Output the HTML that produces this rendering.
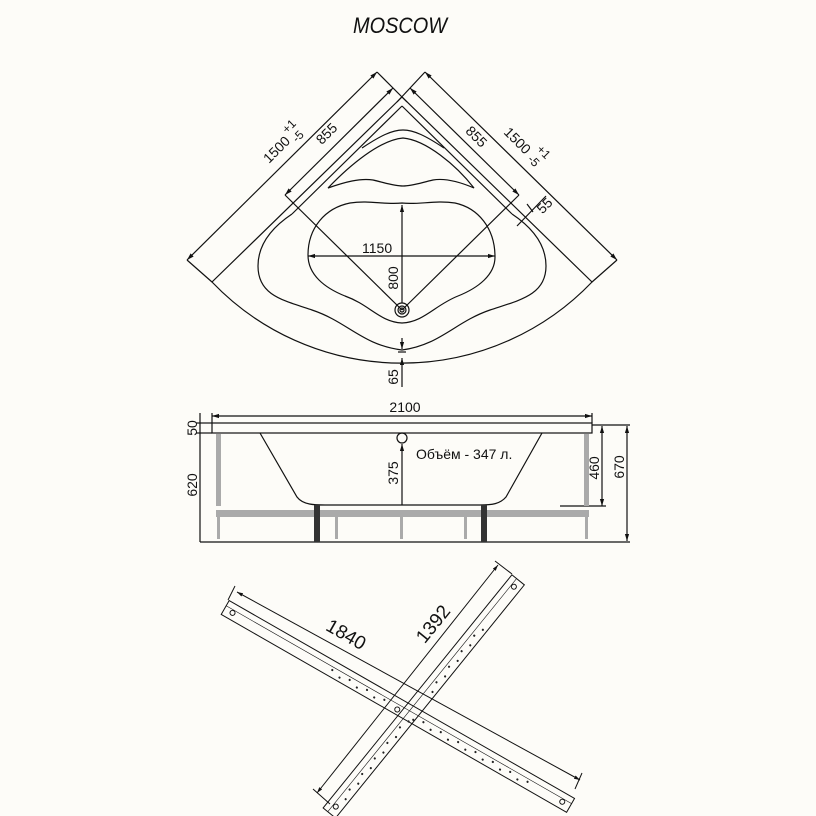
<!DOCTYPE html>
<html><head><meta charset="utf-8"><style>
html,body{margin:0;padding:0;background:#fdfcf8;}
svg{display:block}
text{font-family:"Liberation Sans",sans-serif;fill:#111}
</style></head><body>
<svg width="816" height="816" viewBox="0 0 816 816" xmlns="http://www.w3.org/2000/svg">
<defs>
<marker id="a" viewBox="0 0 10 10" refX="10" refY="5" markerWidth="6" markerHeight="6" orient="auto-start-reverse"><path d="M0,2 L10,5 L0,8z" fill="#111"/></marker>
</defs>
<rect width="816" height="816" fill="#fdfcf8"/>
<text x="353" y="33" font-size="22" font-style="italic" textLength="94" lengthAdjust="spacingAndGlyphs">MOSCOW</text>

<g fill="none" stroke="#111" stroke-width="1.2">
<!-- TOP VIEW -->
<path d="M402,97 L212,282 A263,263 0 0 0 592,282 Z"/>
<line x1="187" y1="260" x2="377" y2="72" marker-start="url(#a)" marker-end="url(#a)"/>
<line x1="187" y1="260" x2="212" y2="282"/>
<line x1="377" y1="72" x2="407" y2="102"/>
<line x1="617" y1="260" x2="425" y2="72" marker-start="url(#a)" marker-end="url(#a)"/>
<line x1="617" y1="260" x2="592" y2="282"/>
<line x1="425" y1="72" x2="397" y2="102"/>
<line x1="285" y1="195" x2="393" y2="88" marker-start="url(#a)" marker-end="url(#a)"/>
<line x1="519" y1="195" x2="410" y2="88" marker-start="url(#a)" marker-end="url(#a)"/>
<line x1="292" y1="214" x2="402" y2="106"/>
<line x1="512" y1="214" x2="402" y2="106"/>
<line x1="285" y1="195" x2="402" y2="310"/>
<line x1="519" y1="195" x2="402" y2="310"/>
<!-- seat arcs -->
<path d="M362,148 C380,136 392,130 403,130 C414,130 426,136 444,148"/>
<path d="M328,188 C350,165 380,140 403,138 C426,140 456,165 474,188 C460,182 445,178 433,180 C420,183 412,186 403,186 C394,186 386,183 373,180 C360,178 345,182 328,188Z"/>
<!-- rim inner outline -->
<path d="M292,214 C268,230 258,248 258,266 C258,295 282,300 312,310 C348,322 362,345 402,350 C440,345 455,322 490,310 C520,300 546,295 546,266 C546,248 536,230 512,214"/>
<!-- bowl -->
<path d="M402,203 C385,205 370,200 350,203 C325,208 308,228 308,255 C308,275 325,288 345,296 C370,305 380,322 402,323 C424,322 435,305 458,296 C478,288 495,275 495,257 C495,228 478,208 455,203 C435,200 418,205 402,203Z"/>
<line x1="308" y1="256" x2="495" y2="256" marker-start="url(#a)" marker-end="url(#a)"/>
<line x1="402" y1="303" x2="402" y2="205" marker-end="url(#a)"/>
<circle cx="402" cy="310" r="7"/><circle cx="402" cy="310" r="4"/><circle cx="402" cy="310" r="2"/>
<line x1="402" y1="338" x2="402" y2="349" marker-end="url(#a)"/>
<line x1="402" y1="387" x2="402" y2="358" marker-end="url(#a)"/>
<line x1="398" y1="352" x2="406" y2="352"/>
<line x1="517" y1="226" x2="546" y2="196"/>
<line x1="527" y1="204" x2="533" y2="212"/>

<!-- SIDE VIEW -->
<rect x="212" y="423" width="380" height="10"/>
<line x1="212" y1="413" x2="212" y2="423"/><line x1="592" y1="413" x2="592" y2="423"/>
<line x1="212" y1="416" x2="592" y2="416" marker-start="url(#a)" marker-end="url(#a)"/>
<path d="M260,433 L297,497 C303,505 315,505 325,505 L480,505 C492,505 500,504 506,497 L542,433"/>
<circle cx="402" cy="438" r="5"/>
<line x1="402" y1="505" x2="402" y2="444" marker-end="url(#a)"/>
<line x1="200" y1="413" x2="200" y2="542"/>
<line x1="196" y1="423" x2="212" y2="423"/><line x1="196" y1="433" x2="212" y2="433"/>
<line x1="200" y1="542" x2="630" y2="542"/>
<line x1="592" y1="425" x2="630" y2="425"/>
<line x1="560" y1="506" x2="606" y2="506"/>
<line x1="602" y1="426" x2="602" y2="506" marker-start="url(#a)" marker-end="url(#a)"/>
<line x1="627" y1="426" x2="627" y2="541" marker-start="url(#a)" marker-end="url(#a)"/>
</g>
<g fill="#aaa">
<rect x="216" y="434" width="5" height="72"/><rect x="584" y="434" width="5" height="72"/>
<rect x="216" y="510" width="373" height="7"/>
<rect x="217" y="517" width="3" height="22"/><rect x="335" y="517" width="3" height="22"/><rect x="400" y="517" width="3" height="22"/><rect x="464" y="517" width="3" height="22"/><rect x="585" y="517" width="3" height="22"/>
</g>
<g fill="#333"><rect x="314" y="505" width="6" height="37"/><rect x="481" y="505" width="6" height="37"/></g>
<g font-size="14">
<text x="405" y="412" text-anchor="middle">2100</text>
<text x="416" y="459">Объём - 347 л.</text>
<text transform="translate(197,428) rotate(-90)" text-anchor="middle">50</text>
<text transform="translate(197,485) rotate(-90)" text-anchor="middle">620</text>
<text transform="translate(398,473) rotate(-90)" text-anchor="middle">375</text>
<text transform="translate(599,468) rotate(-90)" text-anchor="middle">460</text>
<text transform="translate(624,467) rotate(-90)" text-anchor="middle">670</text>
<text x="362" y="253">1150</text>
<text transform="translate(398,278) rotate(-90)" text-anchor="middle">800</text>
<text transform="translate(398,377) rotate(-90)" text-anchor="middle">65</text>
<text transform="translate(548,209) rotate(-45)" text-anchor="middle">55</text>
<text transform="translate(330,137) rotate(-45)" text-anchor="middle">855</text>
<text transform="translate(280,153) rotate(-45)" text-anchor="middle">1500</text>
<text transform="translate(297,143) rotate(-45)" font-size="12">-5</text>
<text transform="translate(287,134) rotate(-45)" font-size="12">+1</text>
<text transform="translate(473,140) rotate(45)" text-anchor="middle">855</text>
<text transform="translate(514,144) rotate(45)" text-anchor="middle">1500</text>
<text transform="translate(527,160) rotate(45)" font-size="12">-5</text>
<text transform="translate(536,150) rotate(45)" font-size="12">+1</text>
</g>

<!-- CROSS -->
<g fill="none" stroke="#111" stroke-width="1">
<g transform="translate(233,612) rotate(29.8)">
<rect x="-9" y="-8" width="398" height="16"/>
<line x1="-9" y1="-2" x2="389" y2="-2" stroke-width="0.6"/>
<circle cx="0" cy="1" r="2.5"/><circle cx="380" cy="1" r="2.5"/><circle cx="191" cy="3" r="2.5"/>
</g>
<g transform="translate(335,806) rotate(-51)">
<rect x="-9" y="-8" width="300" height="16"/>
<line x1="-9" y1="-2" x2="291" y2="-2" stroke-width="0.6"/>
<circle cx="0" cy="1" r="2.5"/><circle cx="283" cy="1" r="2.5"/>
</g>
<line x1="237" y1="592" x2="580" y2="780" marker-start="url(#a)" marker-end="url(#a)"/>
<line x1="235" y1="586" x2="228" y2="600"/><line x1="582" y1="773" x2="575" y2="789"/>
<line x1="317" y1="793" x2="498" y2="565" marker-start="url(#a)" marker-end="url(#a)"/>
<line x1="313" y1="789" x2="330" y2="804"/><line x1="495" y1="561" x2="512" y2="574"/>
</g>
<g fill="#222">
<g transform="translate(233,612) rotate(29.8)">
<circle cx="115" cy="1" r="1.1"/><circle cx="125" cy="4" r="1.1"/><circle cx="135" cy="1" r="1.1"/><circle cx="145" cy="4" r="1.1"/><circle cx="155" cy="1" r="1.1"/><circle cx="165" cy="4" r="1.1"/><circle cx="175" cy="1" r="1.1"/><circle cx="210" cy="4" r="1.1"/><circle cx="220" cy="1" r="1.1"/><circle cx="230" cy="4" r="1.1"/><circle cx="240" cy="1" r="1.1"/><circle cx="250" cy="4" r="1.1"/><circle cx="260" cy="1" r="1.1"/><circle cx="270" cy="4" r="1.1"/><circle cx="280" cy="1" r="1.1"/><circle cx="290" cy="4" r="1.1"/><circle cx="300" cy="1" r="1.1"/><circle cx="310" cy="4" r="1.1"/><circle cx="320" cy="1" r="1.1"/><circle cx="330" cy="4" r="1.1"/><circle cx="340" cy="1" r="1.1"/>
</g>
<g transform="translate(335,806) rotate(-51)">
<circle cx="12" cy="4" r="1.1"/><circle cx="22" cy="1" r="1.1"/><circle cx="32" cy="4" r="1.1"/><circle cx="42" cy="1" r="1.1"/><circle cx="52" cy="4" r="1.1"/><circle cx="62" cy="1" r="1.1"/><circle cx="72" cy="4" r="1.1"/><circle cx="82" cy="1" r="1.1"/><circle cx="92" cy="4" r="1.1"/><circle cx="102" cy="1" r="1.1"/><circle cx="112" cy="4" r="1.1"/><circle cx="150" cy="4" r="1.1"/><circle cx="160" cy="1" r="1.1"/><circle cx="170" cy="4" r="1.1"/><circle cx="180" cy="1" r="1.1"/><circle cx="190" cy="4" r="1.1"/><circle cx="200" cy="1" r="1.1"/><circle cx="210" cy="4" r="1.1"/><circle cx="220" cy="1" r="1.1"/><circle cx="230" cy="4" r="1.1"/>
</g>
</g>
<g font-size="19">
<text transform="translate(343,640) rotate(29.8)" text-anchor="middle">1840</text>
<text transform="translate(438,628) rotate(-51)" text-anchor="middle">1392</text>
</g>
</svg>
</body></html>
